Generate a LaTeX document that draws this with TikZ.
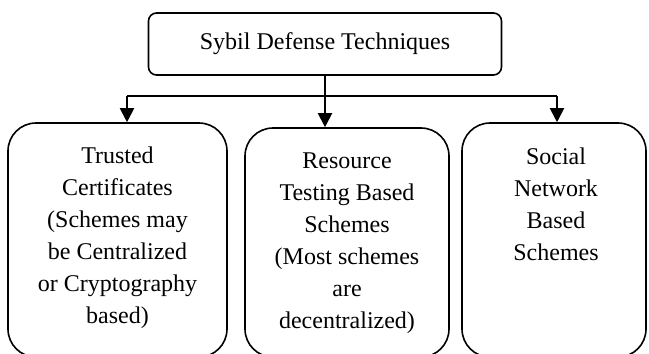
\documentclass[tikz,border=0pt]{standalone}
\usepackage{fontspec}
\setmainfont{Liberation Serif}
\usetikzlibrary{arrows.meta}

\tikzset{
  boxline/.style={draw=black, line width=1.6bp},
  topbox/.style={boxline, rectangle, rounded corners=8bp, inner sep=0pt,
    minimum width=353bp, minimum height=62bp,
    font=\fontsize{24bp}{32bp}\selectfont},
  catbox/.style={boxline, rectangle, rounded corners=28bp, inner sep=0pt},
  cattext/.style={anchor=north, inner sep=0pt, align=center,
    font=\fontsize{24bp}{32bp}\selectfont},
  link/.style={draw=black, line width=2bp},
  arr/.style={link, -{Triangle[width=14bp,length=14bp]}}
}

\begin{document}
\begin{tikzpicture}[x=1bp, y=-1bp]
  \useasboundingbox (0,0) rectangle (649,353);
  \clip (0,0) rectangle (649,353);

  % root
  \node[topbox] (top) at (325,44) {\raisebox{2.5bp}{Sybil Defense Techniques}};

  % three categories (bottoms run past the lower edge)
  \node[catbox, minimum width=219bp, minimum height=234bp] (trust) at (117.5,240) {};
  \node[catbox, minimum width=204bp, minimum height=229bp] (res)   at (347,242.5) {};
  \node[catbox, minimum width=184bp, minimum height=234bp] (soc)   at (554,240) {};

  \node[cattext] (trustT) at (117.5,147) {Trusted\\Certificates\\(Schemes may\\be Centralized\\or Cryptography\\based)};
  \node[cattext] (resT) at (347,153) {Resource\\Testing Based\\Schemes\\(Most schemes\\are\\decentralized)};
  \node[cattext] (socT) at (556,148) {Social\\Network\\Based\\Schemes};

  % branching connectors
  \coordinate (bl) at (127,96);
  \coordinate (br) at (557,96);
  \draw[link] (bl) -- (br);
  \draw[arr] (top.south) -- (top.south |- res.north);
  \draw[arr] (bl) -- (bl |- trust.north);
  \draw[arr] (br) -- (br |- soc.north);
\end{tikzpicture}
\end{document}
